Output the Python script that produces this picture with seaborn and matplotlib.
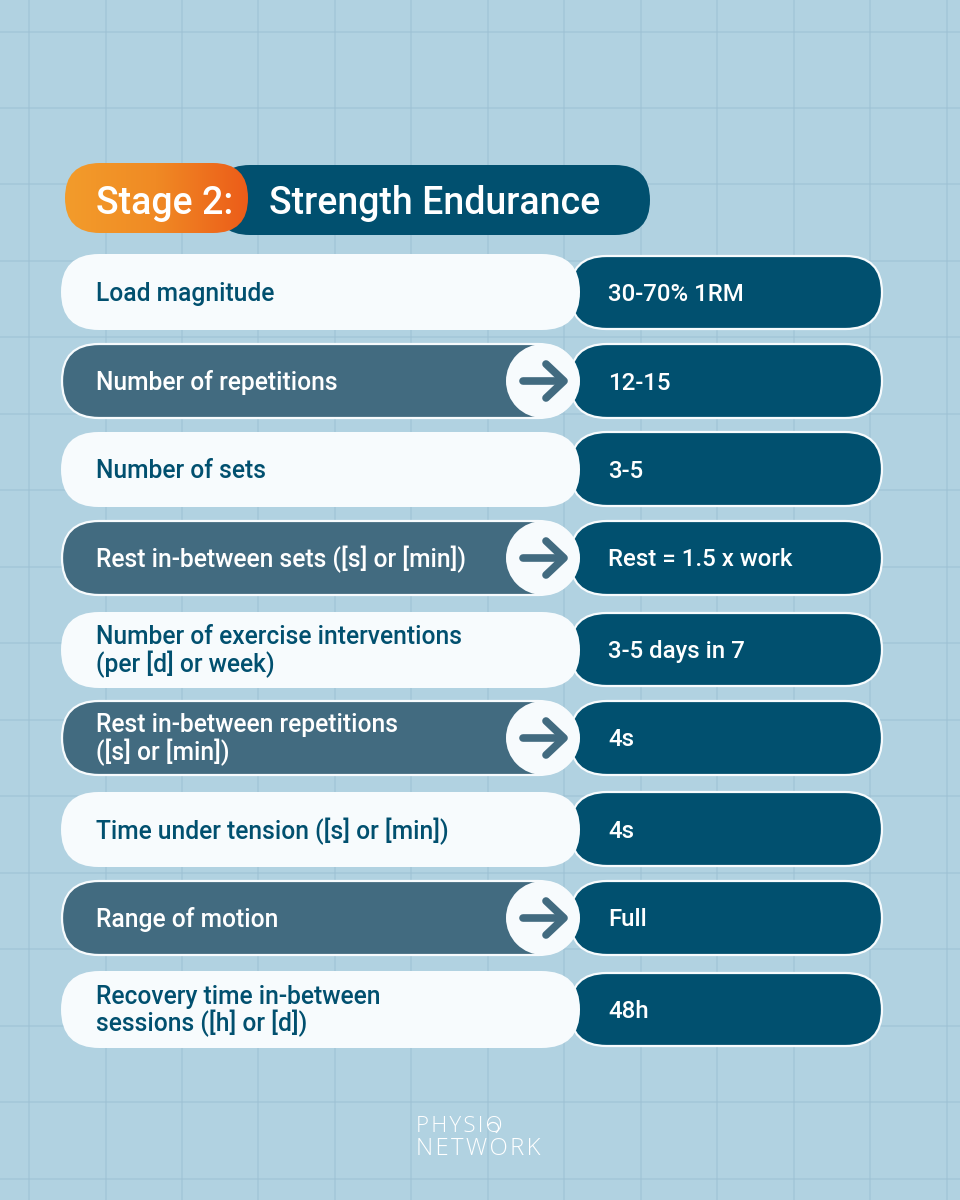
import numpy as np
import matplotlib
matplotlib.use("Agg")
import matplotlib.pyplot as plt
from matplotlib.patches import FancyBboxPatch, Circle, Arc
import seaborn as sns

stage = "Stage 2:"
title = "Strength Endurance"
parameters = ["Load magnitude", "Number of repetitions", "Number of sets",
              "Rest in-between sets ([s] or [min])",
              "Number of exercise interventions\n(per [d] or week)",
              "Rest in-between repetitions\n([s] or [min])",
              "Time under tension ([s] or [min])", "Range of motion",
              "Recovery time in-between\nsessions ([h] or [d])"]
values = ["30-70% 1RM", "12-15", "3-5", "Rest = 1.5 x work", "3-5 days in 7",
          "4s", "4s", "Full", "48h"]
logo = ["PHYSIO", "NETWORK"]

# layout (pixels)
left_tops = [254, 344, 432, 521, 612, 701, 792, 881, 971]
left_bots = [330, 418, 507, 595, 688, 775, 867, 955, 1048]
right_tops = [256, 344, 432, 521, 613, 701, 792, 881, 973]
right_bots = [329, 418, 506, 595, 686, 775, 866, 955, 1046]
grid_x = [29, 106, 182, 258, 335, 411, 488, 564, 641, 717, 794, 870, 947]
grid_y = [32, 108, 184, 261, 337, 414, 490, 567, 643, 720, 796, 873, 949, 1026, 1102, 1179]

NAVY = "#01506f"; SLATE = "#426b80"; WHITE = "#f7fbfd"; BG = "#b1d2e1"; LINE = "#9cc0d3"
FONT = ["Roboto", "DejaVu Sans"]

sns.set_theme(style="white", rc={"font.family": FONT})
fig = plt.figure(figsize=(9.6, 12), dpi=100, facecolor=BG)
ax = fig.add_axes([0, 0, 1, 1])
ax.set_xlim(0, 960); ax.set_ylim(1200, 0); ax.axis("off")
ax.set_facecolor(BG)

for gx in grid_x:
    ax.plot([gx, gx], [0, 1200], color=LINE, lw=1.3, alpha=.55, zorder=1)
for gy in grid_y:
    ax.plot([0, 960], [gy, gy], color=LINE, lw=1.3, alpha=.55, zorder=1)


def pill(x0, x1, y0, y1, fc, ec="none", lw=0, z=3):
    r = (y1 - y0) / 2
    p = FancyBboxPatch((x0 + r, y0 + r), x1 - x0 - 2 * r, 0,
                       boxstyle=f"round,pad={r},rounding_size={r}",
                       fc=fc, ec=ec, lw=lw, zorder=z, mutation_aspect=1)
    ax.add_patch(p)
    return p


# header
pill(215, 650, 165, 235, NAVY, z=3)
orange = pill(65, 248, 163, 233, "none", z=4)
grad = np.linspace(0, 1, 256).reshape(1, -1)
cmap = matplotlib.colors.LinearSegmentedColormap.from_list("o", ["#f39c2b", "#f08a24", "#ec5c19"])
im = ax.imshow(grad, extent=[65, 248, 233, 163], cmap=cmap, aspect="auto", zorder=4)
im.set_clip_path(orange)
ax.set_xlim(0, 960); ax.set_ylim(1200, 0)
ax.text(96, 204, stage, color="white", fontsize=27, fontweight="medium", va="center", zorder=6)
ax.text(269, 204, title, color="white", fontsize=27, fontweight="medium", va="center", zorder=6)

# rows
for i, (name, val) in enumerate(zip(parameters, values)):
    t, b = left_tops[i], left_bots[i]
    rt, rb = right_tops[i], right_bots[i]
    cy = (t + b) / 2
    dark = i % 2 == 1
    pill(570, 882, rt, rb, NAVY, ec=WHITE, lw=1.6, z=3)
    if dark:
        pill(62, 575, t, b, SLATE, ec=WHITE, lw=1.6, z=4)
        ax.add_patch(Circle((543, cy), 37, fc=WHITE, ec="none", zorder=5))
        ax.plot([523, 562], [cy, cy], color=SLATE, lw=5.5, solid_capstyle="round", zorder=6)
        ax.plot([546, 564, 546], [cy - 17, cy, cy + 17], color=SLATE, lw=5.5,
                solid_capstyle="round", solid_joinstyle="round", zorder=6)
    else:
        pill(61, 580, t, b, WHITE, z=4)
    ax.text(96, cy + 1.5, name, color="white" if dark else NAVY, fontsize=17.7, fontweight="medium",
            va="center", linespacing=1.06, zorder=7)
    ax.text(608, (rt + rb) / 2 + 2, val, color="white", fontsize=17.3, fontweight="medium",
            va="center", zorder=7)

# logo
hair = "\u200a"
LOGO_FONT = ["Open Sans", "DejaVu Sans"]
ax.text(416, 1127, hair.join(logo[0]), color="white", fontsize=16, family=LOGO_FONT, fontweight="light",
        va="center", zorder=3)
ax.text(416, 1149, hair.join(logo[1]), color="white", fontsize=17.2, family=LOGO_FONT, fontweight="light",
        va="center", zorder=3)
ax.add_patch(Arc((493, 1128), 11, 11, theta1=200, theta2=60, color="white", lw=.9, zorder=3))

fig.savefig("out.png", dpi=100, facecolor=BG)
